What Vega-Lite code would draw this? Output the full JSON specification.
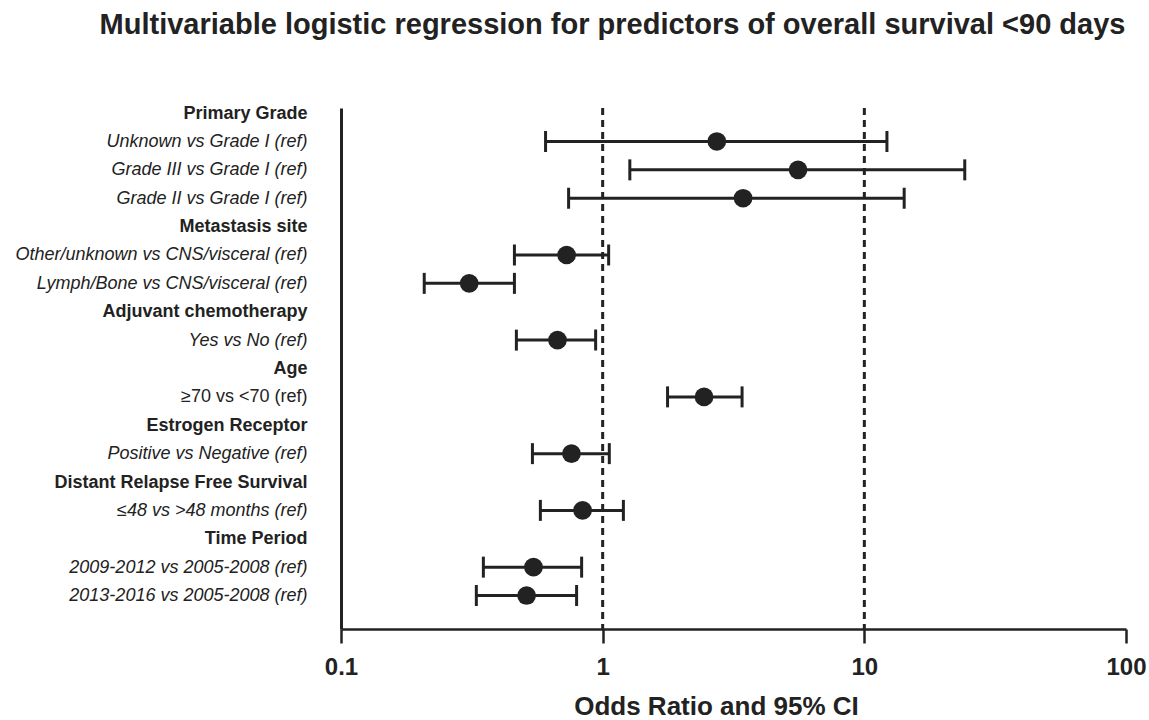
{
  "$schema": "https://vega.github.io/schema/vega-lite/v6.json",
  "width": 785,
  "height": 521,
  "autosize": {"type": "none"},
  "padding": {"left": 341, "top": 108, "right": 23, "bottom": 91},
  "background": "white",
  "title": {
    "text": "Multivariable logistic regression for predictors of overall survival <90 days",
    "font": "Liberation Sans",
    "fontSize": 29,
    "fontWeight": "bold",
    "color": "#222222",
    "anchor": "middle",
    "frame": "group",
    "dx": -121,
    "baseline": "alphabetic",
    "offset": 41
  },
  "config": {
    "view": {"stroke": null},
    "font": "Liberation Sans",
    "axisX": {
      "grid": false,
      "domainColor": "#222222",
      "domainWidth": 2.5,
      "tickColor": "#222222",
      "tickWidth": 2.5,
      "tickSize": 14,
      "labelFont": "Liberation Sans",
      "labelFontSize": 24,
      "labelFontWeight": "bold",
      "labelColor": "#222222",
      "labelPadding": 12,
      "labelFlush": false,
      "titleFont": "Liberation Sans",
      "titleFontSize": 26,
      "titleFontWeight": "bold",
      "titleColor": "#222222",
      "titlePadding": 14,
      "titleX": 375
    },
    "axisY": {
      "grid": false,
      "ticks": false,
      "tickSize": 0,
      "domainColor": "#222222",
      "domainWidth": 3,
      "labelFont": "Liberation Sans",
      "labelFontSize": 18,
      "labelColor": "#222222",
      "labelPadding": 34,
      "labelLimit": 400,
      "title": null
    }
  },
  "datasets": {
    "rows": [
      {"label": "Unknown vs Grade I (ref)", "or": 2.73, "lo": 0.605, "hi": 12.2},
      {"label": "Grade III vs Grade I (ref)", "or": 5.58, "lo": 1.27, "hi": 24.2},
      {"label": "Grade II vs Grade I (ref)", "or": 3.44, "lo": 0.741, "hi": 14.2},
      {"label": "Other/unknown vs CNS/visceral (ref)", "or": 0.728, "lo": 0.46, "hi": 1.054},
      {"label": "Lymph/Bone vs CNS/visceral (ref)", "or": 0.309, "lo": 0.208, "hi": 0.46},
      {"label": "Yes vs No (ref)", "or": 0.672, "lo": 0.468, "hi": 0.94},
      {"label": "≥70 vs <70 (ref)", "or": 2.44, "lo": 1.77, "hi": 3.41},
      {"label": "Positive vs Negative (ref)", "or": 0.76, "lo": 0.539, "hi": 1.06},
      {"label": "≤48 vs >48 months (ref)", "or": 0.838, "lo": 0.578, "hi": 1.2},
      {"label": "2009-2012 vs 2005-2008 (ref)", "or": 0.544, "lo": 0.35, "hi": 0.831},
      {"label": "2013-2016 vs 2005-2008 (ref)", "or": 0.512, "lo": 0.329, "hi": 0.795}
    ],
    "refs": [{"ref": 1}, {"ref": 10}]
  },
  "layer": [
    {
      "data": {"name": "refs"},
      "mark": {"type": "rule", "strokeDash": [7, 5], "strokeWidth": 3, "color": "#222222"},
      "encoding": {
        "x": {"field": "ref", "type": "quantitative", "scale": {"type": "log", "domain": [0.1, 100], "nice": false}, "axis": {"values": [0.1, 1, 10, 100], "format": "~g"}, "title": "Odds Ratio and 95% CI"}
      }
    },
    {
      "data": {"name": "rows"},
      "mark": {"type": "rule", "strokeWidth": 3, "color": "#222222"},
      "encoding": {
        "y": {
          "field": "label",
          "type": "nominal",
          "scale": {
            "type": "point",
            "padding": 0.18,
            "domain": [
              "Primary Grade",
              "Unknown vs Grade I (ref)",
              "Grade III vs Grade I (ref)",
              "Grade II vs Grade I (ref)",
              "Metastasis site",
              "Other/unknown vs CNS/visceral (ref)",
              "Lymph/Bone vs CNS/visceral (ref)",
              "Adjuvant chemotherapy",
              "Yes vs No (ref)",
              "Age",
              "≥70 vs <70 (ref)",
              "Estrogen Receptor",
              "Positive vs Negative (ref)",
              "Distant Relapse Free Survival",
              "≤48 vs >48 months (ref)",
              "Time Period",
              "2009-2012 vs 2005-2008 (ref)",
              "2013-2016 vs 2005-2008 (ref)",
              " "
            ]
          },
          "axis": {
            "labelFontWeight": {
              "condition": {"test": "indexof(['Primary Grade','Metastasis site','Adjuvant chemotherapy','Age','Estrogen Receptor','Distant Relapse Free Survival','Time Period'], datum.value) >= 0", "value": "bold"},
              "value": "normal"
            },
            "labelFontStyle": {
              "condition": {"test": "datum.value === '≥70 vs <70 (ref)' || indexof(['Primary Grade','Metastasis site','Adjuvant chemotherapy','Age','Estrogen Receptor','Distant Relapse Free Survival','Time Period'], datum.value) >= 0", "value": "normal"},
              "value": "italic"
            }
          },
          "title": null
        },
        "x": {"field": "lo", "type": "quantitative", "title": "Odds Ratio and 95% CI"},
        "x2": {"field": "hi"}
      }
    },
    {
      "data": {"name": "rows"},
      "mark": {"type": "tick", "size": 21, "thickness": 3, "color": "#222222", "opacity": 1},
      "encoding": {
        "y": {"field": "label", "type": "nominal", "title": null},
        "x": {"field": "lo", "type": "quantitative", "title": "Odds Ratio and 95% CI"}
      }
    },
    {
      "data": {"name": "rows"},
      "mark": {"type": "tick", "size": 21, "thickness": 3, "color": "#222222", "opacity": 1},
      "encoding": {
        "y": {"field": "label", "type": "nominal", "title": null},
        "x": {"field": "hi", "type": "quantitative", "title": "Odds Ratio and 95% CI"}
      }
    },
    {
      "data": {"name": "rows"},
      "mark": {"type": "circle", "size": 350, "color": "#222222", "opacity": 1},
      "encoding": {
        "y": {"field": "label", "type": "nominal", "title": null},
        "x": {"field": "or", "type": "quantitative", "title": "Odds Ratio and 95% CI"}
      }
    }
  ]
}
